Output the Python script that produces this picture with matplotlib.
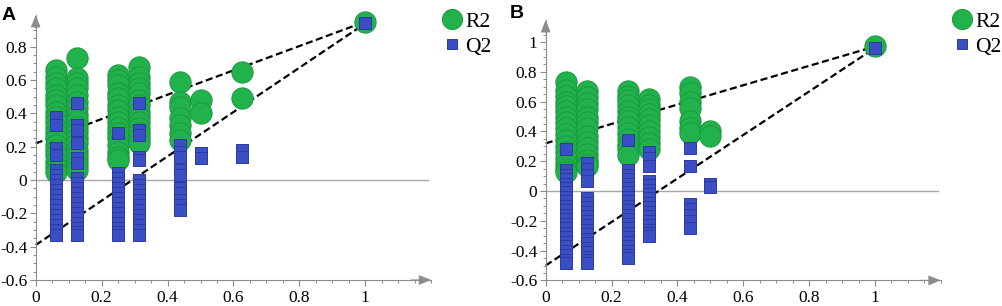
import matplotlib
matplotlib.use("Agg")
import matplotlib.pyplot as plt
from matplotlib.lines import Line2D
from matplotlib.ticker import MultipleLocator, FuncFormatter
import numpy as np

plt.rcParams['axes.unicode_minus'] = False
plt.rcParams['font.family'] = ['Liberation Serif', 'DejaVu Serif']

# ---------------- data ----------------
A_x = [0.0625, 0.125, 0.25, 0.3125, 0.4375, 0.5, 0.625, 1.0]
A_r2 = [
    [0.66, 0.62, 0.58, 0.55, 0.51, 0.48, 0.45, 0.41, 0.38, 0.35, 0.31, 0.28, 0.25, 0.21, 0.18, 0.15, 0.11, 0.08, 0.05],
    [0.73, 0.61, 0.58, 0.55, 0.51, 0.47, 0.43, 0.39, 0.36, 0.32, 0.29, 0.25, 0.22, 0.18, 0.15, 0.12, 0.09, 0.06],
    [0.63, 0.60, 0.57, 0.52, 0.49, 0.45, 0.42, 0.38, 0.35, 0.31, 0.28, 0.25, 0.21, 0.17, 0.14, 0.12],
    [0.68, 0.62, 0.58, 0.55, 0.52, 0.48, 0.45, 0.41, 0.38, 0.35, 0.31, 0.28, 0.25, 0.22],
    [0.59, 0.47, 0.44, 0.37, 0.33, 0.28, 0.24],
    [0.48, 0.40],
    [0.65, 0.49],
    [0.95],
]
A_q2 = [
    [0.38, 0.33, 0.19, 0.15, 0.06, 0.03, 0.0, -0.03, -0.06, -0.09, -0.12, -0.15, -0.18, -0.21, -0.24, -0.27, -0.30, -0.33],
    [0.46, 0.33, 0.30, 0.22, 0.13, 0.10, 0.01, -0.02, -0.05, -0.08, -0.11, -0.14, -0.17, -0.20, -0.23, -0.26, -0.29, -0.31, -0.33],
    [0.28, 0.04, 0.01, -0.02, -0.05, -0.08, -0.11, -0.14, -0.17, -0.20, -0.23, -0.26, -0.29, -0.31, -0.33],
    [0.46, 0.30, 0.27, 0.14, 0.12, 0.0, -0.03, -0.06, -0.09, -0.12, -0.15, -0.18, -0.21, -0.24, -0.27, -0.30, -0.33],
    [0.21, 0.17, 0.14, 0.06, 0.03, -0.05, -0.08, -0.12, -0.15, -0.18],
    [0.16, 0.13],
    [0.18, 0.14],
    [0.94],
]
A_r2_intercept = 0.22
A_q2_intercept = -0.39

B_x = [0.0625, 0.125, 0.25, 0.3125, 0.4375, 0.5, 1.0]
B_r2 = [
    [0.73, 0.68, 0.64, 0.60, 0.57, 0.54, 0.50, 0.46, 0.42, 0.38, 0.34, 0.30, 0.26, 0.22, 0.18, 0.15, 0.13],
    [0.67, 0.63, 0.59, 0.55, 0.50, 0.46, 0.42, 0.37, 0.33, 0.29, 0.25, 0.21, 0.18, 0.17],
    [0.67, 0.64, 0.61, 0.58, 0.54, 0.50, 0.47, 0.43, 0.39, 0.35, 0.31, 0.28, 0.24],
    [0.62, 0.58, 0.55, 0.52, 0.48, 0.44, 0.40, 0.36, 0.32, 0.28],
    [0.70, 0.66, 0.60, 0.56, 0.47, 0.42, 0.39],
    [0.40, 0.37],
    [0.97],
]
B_q2 = [
    [0.28, 0.14, 0.11, 0.08, 0.05, 0.02, -0.01, -0.04, -0.07, -0.10, -0.13, -0.16, -0.19, -0.22, -0.25, -0.28, -0.31, -0.34, -0.37, -0.40, -0.43, -0.46, -0.48],
    [0.19, 0.15, 0.11, 0.07, -0.05, -0.08, -0.11, -0.14, -0.17, -0.20, -0.23, -0.26, -0.29, -0.32, -0.35, -0.38, -0.41, -0.44, -0.46, -0.48],
    [0.34, 0.14, 0.11, 0.08, 0.05, 0.02, -0.01, -0.04, -0.07, -0.10, -0.13, -0.16, -0.19, -0.22, -0.25, -0.28, -0.31, -0.34, -0.37, -0.40, -0.43, -0.45],
    [0.26, 0.22, 0.17, 0.07, 0.04, 0.01, -0.02, -0.05, -0.08, -0.11, -0.14, -0.17, -0.20, -0.23, -0.26, -0.28, -0.30],
    [0.29, 0.17, -0.09, -0.12, -0.16, -0.20, -0.25],
    [0.05, 0.03],
    [0.96],
]
B_r2_intercept = 0.32
B_q2_intercept = -0.50

legend_labels = ["R2", "Q2"]
panel_labels = ["A", "B"]
x_tick_values = [0, 0.2, 0.4, 0.6, 0.8, 1.0]

# ---------------- styling ----------------
W, H = 1003, 306
fig = plt.figure(figsize=(W / 100, H / 100), dpi=100)

GREEN = "#22b24c"
GREEN_EDGE = "#1a9a40"
BLUE = "#3b4fc4"
BLUE_EDGE = "#2b3ba0"
GRAY = "#8c8c8c"


def px_axes(left, right, top, bottom):
    return fig.add_axes([left / W, 1 - bottom / H, (right - left) / W, (bottom - top) / H])


def fmt(v, p):
    v = round(v, 2)
    if abs(v) < 1e-9:
        return "0"
    return "%g" % v


def panel(ax, xs, r2, q2, r2_int, q2_int, ymax, yticks):
    ax.set_xlim(0, 1.2)
    ax.set_ylim(-0.6, ymax)
    for s in ("top", "right"):
        ax.spines[s].set_visible(False)
    for s in ("left", "bottom"):
        ax.spines[s].set_color(GRAY)
        ax.spines[s].set_linewidth(0.8)
    ax.patch.set_alpha(0)

    ax.axhline(0, xmin=0, xmax=1.19 / 1.2, color="#a8a8a8", lw=1.0, zorder=1)

    ax.plot([0, xs[-1]], [r2_int, r2[-1][0]], color="black", lw=1.6,
            linestyle=(0, (3.2, 1.6)), zorder=2, clip_on=False)
    ax.plot([0, xs[-1]], [q2_int, q2[-1][0]], color="black", lw=1.6,
            linestyle=(0, (3.2, 1.6)), zorder=2, clip_on=False)

    for x, ys in zip(xs, r2):
        ax.scatter([x] * len(ys), ys, s=235, marker="o", facecolor=GREEN,
                   edgecolor=GREEN_EDGE, linewidths=0.7, zorder=3, clip_on=False)
    for x, ys in zip(xs, q2):
        ax.scatter([x] * len(ys), ys, s=68, marker="s", facecolor=BLUE,
                   edgecolor=BLUE_EDGE, linewidths=0.7, zorder=4, clip_on=False)

    ax.set_xticks(x_tick_values)
    ax.set_yticks(yticks)
    ax.xaxis.set_minor_locator(MultipleLocator(0.05))
    ax.yaxis.set_minor_locator(MultipleLocator(0.05))
    ax.xaxis.set_major_formatter(FuncFormatter(fmt))
    ax.yaxis.set_major_formatter(FuncFormatter(fmt))
    ax.tick_params(which="major", direction="out", color=GRAY, length=4, width=0.8,
                   labelsize=12.5)
    ax.tick_params(which="minor", direction="out", color=GRAY, length=2.5, width=0.7)
    ax.tick_params(axis="x", pad=3)
    ax.tick_params(axis="y", pad=2)

    arrow = dict(arrowstyle="-|>,head_length=0.75,head_width=0.3", color=GRAY, lw=0.8,
                 mutation_scale=10, shrinkA=0, shrinkB=0)
    ax.annotate("", xy=(0, 1), xycoords="axes fraction", xytext=(0, 0.95),
                arrowprops=arrow, annotation_clip=False)
    ax.annotate("", xy=(1, 0), xycoords="axes fraction", xytext=(0.95, 0),
                arrowprops=arrow, annotation_clip=False)


axA = px_axes(35.7, 35.7 + 1.2 * 329.6, 15, 280)
panel(axA, A_x, A_r2, A_q2, A_r2_intercept, A_q2_intercept, (180 - 15) / 166.6,
      [-0.6, -0.4, -0.2, 0, 0.2, 0.4, 0.6, 0.8])

axB = px_axes(545.7, 545.7 + 1.2 * 329.3, 20, 280.4)
panel(axB, B_x, B_r2, B_q2, B_r2_intercept, B_q2_intercept, (191 - 20) / 149.0,
      [-0.6, -0.4, -0.2, 0, 0.2, 0.4, 0.6, 0.8, 1.0])


def fx(px):
    return px / W


def fy(py):
    return 1 - py / H


# legends
for cx, tx in ((451.7, 465), (961.7, 975)):
    fig.add_artist(Line2D([fx(cx)], [fy(18.8)], marker="o", markersize=14.5,
                          markerfacecolor=GREEN, markeredgecolor=GREEN_EDGE,
                          markeredgewidth=0.7, linestyle="none", transform=fig.transFigure))
    fig.add_artist(Line2D([fx(cx + 0.3)], [fy(43.5)], marker="s", markersize=7.8,
                          markerfacecolor=BLUE, markeredgecolor=BLUE_EDGE,
                          markeredgewidth=0.7, linestyle="none", transform=fig.transFigure))
    fig.text(fx(tx), fy(26.7), legend_labels[0], fontsize=15.5,
             ha="left", va="baseline")
    fig.text(fx(tx), fy(51.6), legend_labels[1], fontsize=15.5,
             ha="left", va="baseline")

# panel labels
fig.text(fx(2), fy(19.5), panel_labels[0], fontsize=14, fontweight="bold",
         family="Liberation Sans", ha="left", va="baseline")
fig.text(fx(510), fy(18.5), panel_labels[1], fontsize=14, fontweight="bold",
         family="Liberation Sans", ha="left", va="baseline")

fig.savefig("out.png", dpi=100)
